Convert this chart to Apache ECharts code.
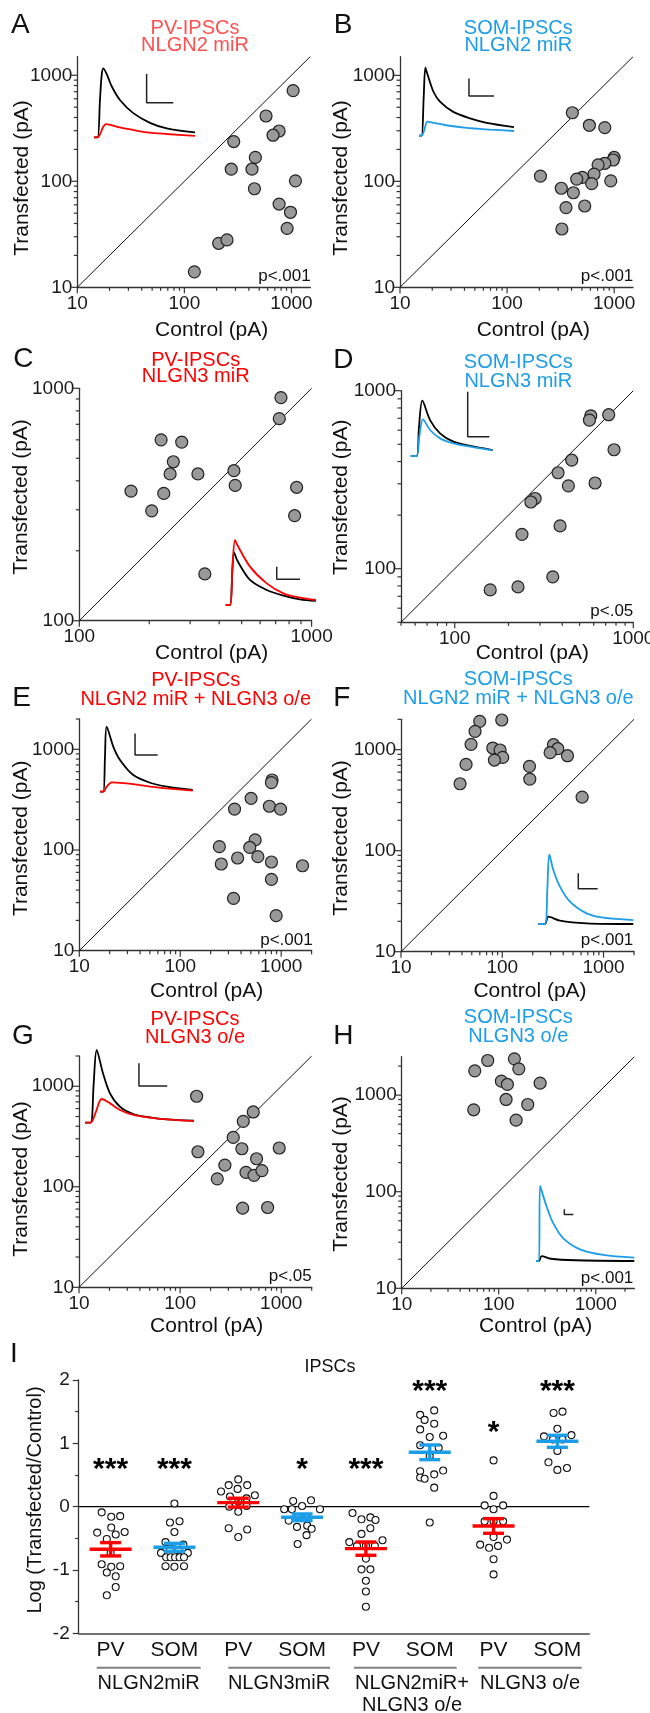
<!DOCTYPE html>
<html><head><meta charset="utf-8">
<script src="https://cdn.jsdelivr.net/npm/echarts@6/dist/echarts.min.js"></script>
<style>html,body{margin:0;padding:0;background:#fff}#c{width:650px;height:1713px}</style>
</head><body><div id="c"></div>
<script>
const FONT = '"Liberation Sans", Arial, Helvetica, sans-serif';
const RED = '#ff0000', BLUE = '#1c9de8', INK = '#111';

// ---------- Scatter panels A-H : control vs transfected amplitude (pA) ----------
const aControl = [1037,579,767,673,289,460,274,428,1090,451,767,979,911,209,250,124];
const aTransfected = [717,413,298,272,237,168,130,130,101,85,61,51,36,26,28,14];
const bControl = [407,587,818,205,1000,980,818,708,649,505,447,617,930,321,416,355,531,325];
const bTransfected = [444,338,321,112,168,159,148,143,117,109,105,95,101,86,78,56.5,58.5,35.5];
const cControl = [738,726,225,276,254,246,324,463,469,167,231,205,862,845,347];
const cTransfected = [912,740,600,587,483,428,428,442,382,361,353,297,375,283,159];
const dControl = [578,568,728,780,452,379,433,611,282,267,238,389,354,226,158];
const dTransfected = [723,684,733,466,407,346,292,303,248,237,156,174,90,79,76];
const eControl = [812,800,503,345,764,985,552,244,488,255,370,587,800,1626,800,337,891];
const eTransfected = [496,467,326,255,272,255,126,108,106,72.6,83.3,85.9,76,69.8,51.1,33.1,22.3];
const fControl = [59.9,98.9,53.9,49.2,80.6,95.2,101,83.7,43.9,38.3,185.6,187,320.5,353.7,297,440.6,615];
const fTransfected = [1910,1968,1520,1130,1039,993,839,790,715,460,684,512,1121,1023,934,872,339];
const gControl = [145.6,528.6,421,335,150,408,955,570,277,233,448,537,644,415,733];
const gTransfected = [795,555,448,310,223,239,243,190,164,120,139,130,145,61.3,62.2];
const hControl = [145,77,161,56.6,106.5,122.8,267,119,199,55.2,151];
const hTransfected = [2377,2284,1872,1785,1396,1290,1331,902,800,705,551];
const axisRanges = [[10,1500],[10,1500],[100,1000],[50,1000],[10,2000],[10,2000],[10,2000],[10,2500]];
const pValues = ['p<.001','p<.001','','p<.05','p<.001','p<.001','p<.05','p<.001'];
const panelTitles = [['PV-IPSCs','NLGN2 miR'],['SOM-IPSCs','NLGN2 miR'],['PV-IPSCs','NLGN3 miR'],['SOM-IPSCs','NLGN3 miR'],
  ['PV-IPSCs','NLGN2 miR + NLGN3 o/e'],['SOM-IPSCs','NLGN2 miR + NLGN3 o/e'],['PV-IPSCs','NLGN3 o/e'],['SOM-IPSCs','NLGN3 o/e']];

// ---------- Example IPSC traces (time %, amplitude relative to largest peak) ----------
const aTraceCtrl = [[0,0],[3.6,0],[5.9,0.54],[7.6,0.9],[9.2,1],[12.5,0.92],[17.5,0.74],[25.7,0.54],[38.9,0.35],[55.4,0.21],[72,0.13],[100,0.07]];
const aTraceTrans = [[0,0],[3.6,0],[6.5,0.06],[9,0.15],[11.9,0.19],[16,0.18],[22,0.155],[39,0.106],[55,0.068],[72,0.048],[100,0.02]];
const aScaleBar = [[52.1,0.918],[52.1,0.502],[78.5,0.502]];
const bTraceCtrl = [[0,0],[2.8,0],[4.9,0.55],[6.7,1],[9,0.9],[15.1,0.65],[22.1,0.5],[36.1,0.35],[53.7,0.255],[71.2,0.19],[100,0.127]];
const bTraceTrans = [[0,0],[2.8,0],[5.5,0.08],[8.8,0.206],[15,0.19],[30,0.15],[50,0.115],[75,0.09],[100,0.069]];
const bScaleBar = [[52.6,0.843],[52.6,0.583],[78.9,0.583]];
const cTraceCtrl = [[0,0],[4.8,0],[7.3,0.5],[9.2,0.81],[13,0.68],[26.9,0.385],[45.4,0.23],[63.8,0.144],[82.3,0.087],[100,0.062]];
const cTraceTrans = [[0,0],[4.8,0],[7.5,0.6],[10.3,1],[13,0.92],[26.9,0.59],[45.4,0.333],[63.8,0.18],[82.3,0.113],[100,0.077]];
const cScaleBar = [[56.5,0.59],[56.5,0.395],[82.3,0.395]];
const dTraceCtrl = [[0,0],[7.3,0],[10,0.5],[14.2,1],[23.6,0.65],[35.8,0.41],[52,0.259],[72.4,0.181],[100,0.108]];
const dTraceTrans = [[0,0],[7.3,0],[10.5,0.35],[15,0.663],[23.6,0.47],[35.8,0.319],[52,0.229],[72.4,0.169],[100,0.102]];
const dScaleBar = [[69.5,1.163],[69.5,0.349],[95.9,0.349]];
const eTraceCtrl = [[0,0],[3.6,0],[5.4,0.55],[7.2,1],[14.4,0.69],[21.6,0.487],[35.9,0.256],[54,0.138],[72,0.077],[100,0.026]];
const eTraceTrans = [[0,0],[3.6,0],[7.2,0.077],[12.6,0.144],[35.9,0.118],[54,0.077],[72,0.051],[100,0.015]];
const eScaleBar = [[37.8,0.897],[37.8,0.564],[62.2,0.564]];
const fTraceCtrl = [[0,0],[7,0],[10.5,0.105],[22.8,0.048],[50.9,0.01],[100,0]];
const fTraceTrans = [[0,0],[7,0],[9.5,0.5],[11.6,1],[15.8,0.775],[22.8,0.536],[33.3,0.321],[50.9,0.153],[68.4,0.091],[100,0.057]];
const fScaleBar = [[42.1,0.727],[42.1,0.507],[62.5,0.507]];
const gTraceCtrl = [[0,0],[5.2,0],[8,0.55],[10.7,1],[16.5,0.68],[22.9,0.404],[32.1,0.22],[44.3,0.119],[59.6,0.073],[74.9,0.046],[100,0.028]];
const gTraceTrans = [[0,0],[5.2,0],[10,0.15],[15.3,0.326],[22.9,0.266],[32.1,0.174],[44.3,0.106],[59.6,0.069],[74.9,0.046],[100,0.023]];
const gScaleBar = [[49.5,0.817],[49.5,0.505],[75.5,0.505]];
const hTraceCtrl = [[0,0],[3,0],[5.8,0.066],[15,0.03],[40,0.01],[100,0]];
const hTraceTrans = [[0,0],[3,0],[4.1,1],[10.8,0.721],[17.6,0.5],[27.8,0.301],[44.7,0.155],[68.5,0.08],[100,0.044]];
const hScaleBar = [[28.8,0.686],[28.8,0.619],[38,0.619]];

// ---------- Panel I : log(transfected/control) per cell, [jitter, value] ----------
const iCategories = ['PV','SOM','PV','SOM','PV','SOM','PV','SOM'];
const iGroupNames = [['NLGN2miR'],['NLGN3miR'],['NLGN2miR+','NLGN3 o/e'],['NLGN3 o/e']];
const iPV1 = [[-0.14,-0.09],[0.01,-0.16],[0.15,-0.15],[-0.21,-0.41],[0.01,-0.33],[0.22,-0.40],[-0.06,-0.51],[0.08,-0.44],[0,-0.73],[-0.14,-0.91],[0.01,-0.95],[0.15,-0.94],[-0.06,-1.04],[0.08,-1.10],[0.08,-1.27],[-0.06,-1.40]];
const iSOM1 = [[0,0.05],[-0.07,-0.25],[0.08,-0.23],[0,-0.40],[-0.14,-0.56],[0.14,-0.60],[-0.07,-0.66],[0.07,-0.69],[-0.21,-0.73],[0.21,-0.73],[-0.13,-0.80],[-0.06,-0.80],[0.01,-0.80],[0.08,-0.80],[0.15,-0.80],[-0.14,-0.94],[0,-0.95],[0.15,-0.94]];
const iPV2 = [[0,0.43],[-0.15,0.34],[0.14,0.34],[-0.27,0.24],[-0.01,0.28],[0.26,0.18],[-0.13,0.16],[0.13,0.13],[0,0.08],[-0.14,0],[0.13,0.01],[0,-0.08],[-0.15,-0.34],[0.14,-0.36],[0,-0.48]];
const iSOM2 = [[-0.14,0.09],[0.14,0.10],[-0.28,-0.04],[0,0.01],[0.28,-0.04],[-0.16,-0.04],[-0.07,-0.17],[0.07,-0.18],[-0.21,-0.22],[-0.08,-0.32],[0.08,-0.30],[0.15,-0.35],[0.07,-0.45],[-0.07,-0.59]];
const iPV3 = [[-0.21,-0.10],[-0.07,-0.20],[0.07,-0.17],[0.15,-0.21],[0.07,-0.34],[-0.07,-0.43],[-0.26,-0.56],[0.26,-0.53],[-0.14,-0.62],[0,-0.62],[0.14,-0.62],[0,-0.82],[-0.07,-0.99],[0.07,-0.99],[0,-1.17],[0,-1.34],[0,-1.58]];
const iSOM3 = [[0.07,1.52],[-0.15,1.45],[-0.08,1.37],[0.07,1.31],[-0.15,1.22],[0.21,1.12],[0,1.10],[-0.15,0.97],[0.14,0.93],[0,0.80],[-0.15,0.56],[0.07,0.51],[0.21,0.57],[-0.15,0.46],[-0.08,0.44],[0.07,0.30],[0,-0.25]];
const iPV4 = [[0,0.73],[0,0.17],[-0.14,0.02],[0.15,0.02],[0,-0.04],[-0.14,-0.23],[0.15,-0.23],[0,-0.23],[0,-0.48],[0.21,-0.52],[-0.21,-0.60],[-0.07,-0.65],[0.07,-0.62],[0,-0.83],[0,-1.07]];
const iSOM4 = [[-0.06,1.48],[0.08,1.50],[0,1.23],[-0.21,1.11],[0.22,1.13],[-0.07,1.06],[0.08,1.06],[0,0.88],[-0.14,0.70],[0.15,0.61],[0,0.58]];
const iMeans = [-0.673,-0.642,0.063,-0.168,-0.663,0.858,-0.305,1.032];
const iSEM = [0.105,0.063,0.07,0.053,0.105,0.116,0.116,0.095];
const iStars = ['***','***','','*','***','***','*','***'];
const iStarY = [0.70,0.70,0,0.70,0.69,1.92,1.27,1.92];

// ---------- layout (pixels) ----------
const L = {
  grids: [[77.3,56.6,233,230.7],[400,56.7,233,230.6],[79.3,388.3,232.3,232.4],[401,390.7,232.3,231.6],
          [79.3,719,232.3,231.7],[401,719.3,233,232.4],[79,1056,232.7,231.3],[401.7,1056.7,232.7,231.6]],
  insets: [[94,68.3,101,69],[419,67.7,95,68],[225.7,540,90.3,65],[410.7,400.7,82,55.3],
           [100,726.7,92.7,65],[538.3,854.3,95,69.7],[85,1050,109,72.7],[536,1185.7,98.3,75.3]],
  titlePos: [[195,28.3,45],[518.3,28.3,45],[195.7,360,376.7],[518.3,362.7,381],[195.7,680.7,699.3],[518.3,679.3,698.3],[195,1019,1037.7],[518.3,1017.3,1036]],
  titleCol: ['#ff5050',BLUE,RED,BLUE,RED,BLUE,RED,BLUE],
  yTitle: [[22,178],[341.7,178],[21.7,497],[341.7,497.3],[21.7,838.3],[341.7,838],[21.7,1179],[341.7,1174]],
  xTitle: [[211.7,330],[533.3,330],[211.7,653],[532.3,653],[206.7,991.7],[530,991.7],[206.7,1326],[535.7,1326]],
  pPos: [[310.7,276.7],[633.3,276.7],null,[633.3,611.7],[312.7,940],[633.3,940.7],[311.7,1276],[633.3,1278.3]],
  letters: [['A',20.3,25],['B',343,25],['C',23.3,359.3],['D',343.3,360],['E',21.7,698.3],['F',341.7,698.7],['G',23,1036],['H',343.3,1036.7],['I',14,1354]],
  iGrid: [78.7,1380,510.6,253.3]
};

const ctrls = [aControl,bControl,cControl,dControl,eControl,fControl,gControl,hControl];
const transs = [aTransfected,bTransfected,cTransfected,dTransfected,eTransfected,fTransfected,gTransfected,hTransfected];
const traceC = [aTraceCtrl,bTraceCtrl,cTraceCtrl,dTraceCtrl,eTraceCtrl,fTraceCtrl,gTraceCtrl,hTraceCtrl];
const traceT = [aTraceTrans,bTraceTrans,cTraceTrans,dTraceTrans,eTraceTrans,fTraceTrans,gTraceTrans,hTraceTrans];
const bars = [aScaleBar,bScaleBar,cScaleBar,dScaleBar,eScaleBar,fScaleBar,gScaleBar,hScaleBar];
const traceCol = [RED,BLUE,RED,BLUE,RED,BLUE,RED,BLUE];

function powLabel(v){
  const e = Math.log10(v); const r = Math.round(e);
  return Math.abs(e - r) < 1e-6 ? String(Math.round(Math.pow(10, r))) : '';
}
function logTicks(min, max){
  const out = [];
  for (let e = Math.floor(Math.log10(min)); e <= Math.ceil(Math.log10(max)); e++)
    for (let k = 1; k <= 9; k++){ const v = k*Math.pow(10,e); if (v >= min*0.999 && v <= max*1.001) out.push([v, k===1?1:0]); }
  return out;
}

const grid = [], xAxis = [], yAxis = [], series = [], graphic = [];
function txt(x, y, text, size, color, align, rot, weight){
  return {type:'text', x, y, rotation: rot||0, silent:true, z:100,
    style:{text, fill:color, font:(weight||'normal')+' '+size+'px '+FONT, align:align||'center', textAlign:align||'center', verticalAlign:'middle', textVerticalAlign:'middle'}};
}

for (let p = 0; p < 8; p++){
  const [min,max] = axisRanges[p];
  const g = L.grids[p];
  const gi = grid.length;
  grid.push({left:g[0], top:g[1], width:g[2], height:g[3], outerBoundsMode:'none', containLabel:false});
  const ax = (isX) => ({type:'log', logBase:10, gridIndex:gi, min, max, position: isX?'bottom':'left',
    axisLine:{show:true, lineStyle:{color:'#333', width:1.3}}, axisTick:{show:false},
    splitLine:{show:false}, minorTick:{show:false}, minorSplitLine:{show:false},
    axisLabel:{show:true, fontSize:19, fontFamily:FONT, color:'#1a1a1a', margin: isX?7:5, formatter: powLabel,
      showMinLabel:true, showMaxLabel:true, hideOverlap:false}});
  xAxis.push(ax(true)); yAxis.push(ax(false));
  const ai = xAxis.length-1;
  const ticks = logTicks(min,max);
  const tickData = ticks.map(t => [t[0], min, 0, t[1]]).concat(ticks.map(t => [min, t[0], 1, t[1]]));
  series.push({type:'custom', xAxisIndex:ai, yAxisIndex:ai, silent:true, clip:false, z:3,
    data: tickData,
    renderItem(params, api){
      const pt = api.coord([api.value(0), api.value(1)]);
      const len = api.value(3) ? 6 : 3.5;
      const isY = api.value(2) === 1;
      return {type:'line', shape: isY ? {x1:pt[0]-len, y1:pt[1], x2:pt[0], y2:pt[1]} : {x1:pt[0], y1:pt[1], x2:pt[0], y2:pt[1]+len},
        style:{stroke:'#333', lineWidth:1.2}};
    }});
  series.push({type:'line', xAxisIndex:ai, yAxisIndex:ai, data:[[min,min],[max,max]], symbol:'none', silent:true,
    lineStyle:{color:'#111', width:1}, z:2});
  series.push({type:'scatter', xAxisIndex:ai, yAxisIndex:ai, data: ctrls[p].map((c,i)=>[c, transs[p][i]]),
    symbolSize:12, itemStyle:{color:'#999999', borderColor:'#222', borderWidth:1.2, opacity:1}, z:4, silent:true});
  // inset
  const ins = L.insets[p];
  const ig = grid.length;
  grid.push({left:ins[0], top:ins[1], width:ins[2], height:ins[3], outerBoundsMode:'none', containLabel:false});
  xAxis.push({type:'value', gridIndex:ig, min:0, max:100, show:false});
  yAxis.push({type:'value', gridIndex:ig, min:0, max:1, show:false});
  const ii = xAxis.length-1;
  const lineS = (data, col, smooth) => ({type:'line', xAxisIndex:ii, yAxisIndex:ii, data, symbol:'none', showSymbol:false,
    smooth: smooth, clip:false, silent:true, lineStyle:{color:col, width:1.8}, z:5});
  series.push(lineS(traceC[p], '#000', 0.3));
  series.push(lineS(traceT[p], traceCol[p], 0.3));
  const sb = lineS(bars[p], '#222', false); sb.lineStyle.width = 1.5; series.push(sb);

  // texts
  const tp = L.titlePos[p];
  graphic.push(txt(tp[0], tp[1], panelTitles[p][0], 20, L.titleCol[p]));
  graphic.push(txt(tp[0], tp[2], panelTitles[p][1], 20, L.titleCol[p]));
  graphic.push(txt(L.yTitle[p][0], L.yTitle[p][1], 'Transfected (pA)', 21, INK, 'center', Math.PI/2));
  graphic.push(txt(L.xTitle[p][0], L.xTitle[p][1], 'Control (pA)', 21, INK));
  if (L.pPos[p]) graphic.push(txt(L.pPos[p][0], L.pPos[p][1], pValues[p], 17, INK, 'right'));
}
L.letters.forEach(l => graphic.push(txt(l[1], l[2], l[0], 28, INK)));

// ---------- Panel I ----------
const ig = L.iGrid;
const gI = grid.length;
grid.push({left:ig[0], top:ig[1], width:ig[2], height:ig[3], outerBoundsMode:'none', containLabel:false});
xAxis.push({type:'value', gridIndex:gI, min:-0.5, max:7.5, position:'bottom',
  axisLine:{show:true, onZero:false, lineStyle:{color:'#444', width:1.5}}, axisTick:{show:false}, axisLabel:{show:false}, splitLine:{show:false}});
yAxis.push({type:'value', gridIndex:gI, min:-2, max:2, interval:1, position:'left',
  axisLine:{show:true, onZero:false, lineStyle:{color:'#333', width:1.3}},
  axisTick:{show:true, length:6, lineStyle:{color:'#333', width:1.2}},
  minorTick:{show:true, splitNumber:2, length:3.5, lineStyle:{color:'#333', width:1.2}},
  splitLine:{show:false},
  axisLabel:{fontSize:19, fontFamily:FONT, color:'#1a1a1a', margin:9}});
const iA = xAxis.length-1;
xAxis.push({type:'category', gridIndex:gI, position:'bottom', data:iCategories, boundaryGap:true,
  axisLine:{show:false}, axisTick:{show:false}, axisLabel:{fontSize:21, fontFamily:FONT, color:INK, margin:6, interval:0}});
const iCatAxis = xAxis.length-1;
series.push({type:'line', xAxisIndex:iA, yAxisIndex:iA, data:[[-0.5,0],[7.5,0]], symbol:'none', silent:true,
  lineStyle:{color:'#000', width:1.2}, z:2});
const groups = [iPV1,iSOM1,iPV2,iSOM2,iPV3,iSOM3,iPV4,iSOM4];
const dots = [];
groups.forEach((grp, gi2) => grp.forEach(d => dots.push([gi2 + d[0], d[1]])));
series.push({type:'scatter', xAxisIndex:iA, yAxisIndex:iA, data:dots, symbolSize:7, silent:true, z:3,
  itemStyle:{color:'#fff', borderColor:'#111', borderWidth:1.1, opacity:1}});
const barColors = iCategories.map(c => c==='PV' ? RED : BLUE);
series.push({type:'custom', xAxisIndex:iA, yAxisIndex:iA, silent:true, clip:false, z:6,
  data: iMeans.map((m,i)=>[i, m, iSEM[i]]),
  renderItem(params, api){
    const x = api.value(0), m = api.value(1), s = api.value(2);
    const c = api.coord([x, m]), hi = api.coord([x, m+s]), lo = api.coord([x, m-s]);
    const st = {stroke: barColors[params.dataIndex], lineWidth:3.4};
    return {type:'group', children:[
      {type:'line', shape:{x1:c[0]-21, y1:c[1], x2:c[0]+21, y2:c[1]}, style:st},
      {type:'line', shape:{x1:c[0], y1:hi[1], x2:c[0], y2:lo[1]}, style:st},
      {type:'line', shape:{x1:c[0]-10.5, y1:hi[1], x2:c[0]+10.5, y2:hi[1]}, style:st},
      {type:'line', shape:{x1:c[0]-10.5, y1:lo[1], x2:c[0]+10.5, y2:lo[1]}, style:st}
    ]};
  }});
series.push({type:'custom', xAxisIndex:iA, yAxisIndex:iA, silent:true, clip:false, z:7,
  data: iStarY.map((y,i)=>[i, y]),
  renderItem(params, api){
    const t = iStars[params.dataIndex]; if (!t) return null;
    const c = api.coord([api.value(0), api.value(1)]);
    return {type:'text', x:c[0], y:c[1]+7, style:{text:t, fill:'#000', font:'bold 30px '+FONT, align:'center', verticalAlign:'middle'}};
  }});
graphic.push(txt(330, 1366.7, 'IPSCs', 18, INK));
graphic.push(txt(35, 1500, 'Log (Transfected/Control)', 20, INK, 'center', Math.PI/2));
const underline = [[96.7,200.7],[228.3,330],[354,456.7],[478.3,581.7]];
underline.forEach(u => graphic.push({type:'line', silent:true, shape:{x1:u[0], y1:1667.7, x2:u[1], y2:1667.7}, style:{stroke:'#808080', lineWidth:2}}));
const groupLabelPos = [[148.7,1683.3],[279,1683.3],[412,1683.3],[530,1683.3]];
iGroupNames.forEach((n, k) => n.forEach((line, j) => graphic.push(txt(groupLabelPos[k][0], groupLabelPos[k][1] + j*21.7, line, 20, INK))));

const chart = echarts.init(document.getElementById('c'), null, {renderer:'canvas', width:650, height:1713});
chart.setOption({animation:false, backgroundColor:'#fff', grid, xAxis, yAxis, series, graphic:{elements:graphic}});
</script>
</body></html>
